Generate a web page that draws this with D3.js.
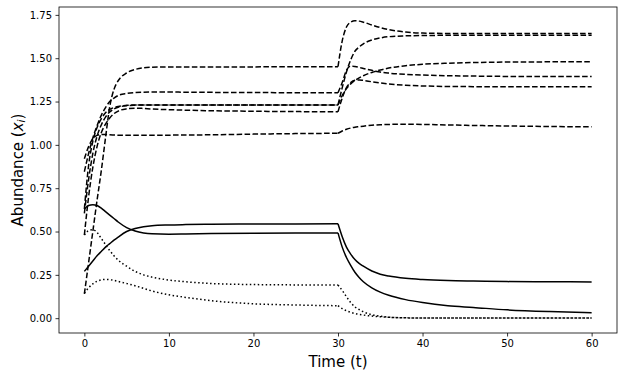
<!DOCTYPE html>
<html>
<head>
<meta charset="utf-8">
<script src="https://cdn.jsdelivr.net/npm/d3@7"></script>
<style>
  body { margin: 0; background: #fff; }
  svg { display: block; }
</style>
</head>
<body>
<div id="chart"></div>
<script>
// sample times (the switch happens at t = 30)
const times = [0, 0.5, 1, 1.5, 2, 2.5, 3, 3.5, 4, 5, 6, 7, 8, 10, 12, 15, 20, 25, 30,
  30.5, 31, 31.5, 32, 32.5, 33, 34, 35, 36, 38, 40, 43, 46, 50, 55, 60];

// dashed species
const dashed1 = [0.14, 0.32, 0.50, 0.68, 0.85, 1.04, 1.22, 1.32, 1.37, 1.415, 1.435, 1.445, 1.448, 1.45, 1.45, 1.45, 1.45, 1.451, 1.451,
  1.60, 1.68, 1.708, 1.716, 1.714, 1.708, 1.692, 1.677, 1.665, 1.651, 1.645, 1.643, 1.643, 1.643, 1.643, 1.643];
const dashed2 = [0.845, 0.95, 1.04, 1.11, 1.17, 1.215, 1.25, 1.27, 1.285, 1.297, 1.302, 1.304, 1.305, 1.305, 1.304, 1.303, 1.302, 1.301, 1.301,
  1.36, 1.43, 1.455, 1.452, 1.447, 1.441, 1.43, 1.42, 1.414, 1.407, 1.403, 1.399, 1.397, 1.395, 1.394, 1.394];
const dashed3 = [0.63, 0.88, 1.02, 1.10, 1.15, 1.185, 1.205, 1.215, 1.222, 1.228, 1.23, 1.23, 1.23, 1.23, 1.23, 1.23, 1.23, 1.23, 1.23,
  1.33, 1.42, 1.49, 1.54, 1.565, 1.583, 1.605, 1.617, 1.624, 1.629, 1.631, 1.632, 1.632, 1.632, 1.632, 1.632];
const dashed4 = [0.605, 0.80, 0.95, 1.05, 1.115, 1.16, 1.19, 1.207, 1.217, 1.226, 1.229, 1.23, 1.23, 1.23, 1.23, 1.23, 1.23, 1.23, 1.23,
  1.285, 1.325, 1.352, 1.372, 1.387, 1.399, 1.418, 1.432, 1.443, 1.457, 1.465, 1.471, 1.475, 1.478, 1.479, 1.48];
const dashed5 = [0.48, 0.70, 0.87, 0.99, 1.07, 1.12, 1.155, 1.18, 1.195, 1.208, 1.212, 1.21, 1.207, 1.203, 1.2, 1.197, 1.194, 1.192, 1.191,
  1.27, 1.33, 1.36, 1.373, 1.375, 1.372, 1.364, 1.357, 1.351, 1.344, 1.34, 1.337, 1.336, 1.335, 1.335, 1.335];
const dashed6 = [0.92, 0.99, 1.035, 1.055, 1.06, 1.06, 1.058, 1.057, 1.056, 1.055, 1.055, 1.055, 1.055, 1.056, 1.057, 1.058, 1.062, 1.065, 1.067,
  1.08, 1.09, 1.097, 1.102, 1.105, 1.108, 1.113, 1.116, 1.118, 1.119, 1.118, 1.115, 1.112, 1.109, 1.106, 1.104];

// solid species
const solid1 = [0.63, 0.65, 0.655, 0.65, 0.635, 0.615, 0.595, 0.575, 0.555, 0.523, 0.503, 0.492, 0.487, 0.485, 0.486, 0.488, 0.49, 0.491, 0.492,
  0.41, 0.35, 0.305, 0.265, 0.235, 0.21, 0.175, 0.15, 0.132, 0.107, 0.09, 0.072, 0.062, 0.048, 0.038, 0.032];
const solid2 = [0.27, 0.30, 0.33, 0.36, 0.385, 0.41, 0.43, 0.45, 0.468, 0.50, 0.518, 0.528, 0.534, 0.538, 0.54, 0.542, 0.543, 0.544, 0.545,
  0.47, 0.41, 0.37, 0.338, 0.316, 0.30, 0.272, 0.254, 0.243, 0.23, 0.223, 0.217, 0.214, 0.211, 0.21, 0.209];

// dotted species
const dotted1 = [0.48, 0.505, 0.51, 0.495, 0.46, 0.425, 0.39, 0.36, 0.335, 0.30, 0.27, 0.25, 0.237, 0.22, 0.21, 0.2, 0.194, 0.192, 0.191,
  0.16, 0.124, 0.09, 0.065, 0.05, 0.037, 0.02, 0.011, 0.006, 0.002, 0.001, 0.001, 0.001, 0.001, 0.001, 0.001];
const dotted2 = [0.144, 0.175, 0.198, 0.213, 0.221, 0.224, 0.222, 0.218, 0.212, 0.2, 0.187, 0.172, 0.157, 0.135, 0.12, 0.101, 0.083, 0.076, 0.072,
  0.055, 0.043, 0.034, 0.027, 0.022, 0.018, 0.012, 0.008, 0.005, 0.002, 0.001, 0.001, 0.001, 0.001, 0.001, 0.001];

const xTicks = [0, 10, 20, 30, 40, 50, 60];
const yTicks = [0, 0.25, 0.5, 0.75, 1.0, 1.25, 1.5, 1.75];

const width = 624, height = 376;
const margin = {top: 7, right: 7, bottom: 43, left: 59};
const visWidth = width - margin.left - margin.right;
const visHeight = height - margin.top - margin.bottom;
const font = "DejaVu Sans";

const svg = d3.select("#chart").append("svg")
  .attr("width", width)
  .attr("height", height);

const g = svg.append("g")
  .attr("transform", `translate(${margin.left}, ${margin.top})`);

const x = d3.scaleLinear().domain([-3, 63]).range([0, visWidth]);
const y = d3.scaleLinear().domain([-0.0855, 1.7955]).range([visHeight, 0]);

// axes
const xAxisGroup = g.append("g")
  .attr("transform", `translate(0, ${visHeight})`)
  .call(d3.axisBottom(x).tickValues(xTicks).tickSize(3.5).tickPadding(3.5).tickFormat(d3.format("d")));

const yAxisGroup = g.append("g")
  .call(d3.axisLeft(y).tickValues(yTicks).tickSize(3.5).tickPadding(3.5).tickFormat(d3.format(".2f")));

[xAxisGroup, yAxisGroup].forEach(a => {
  a.select(".domain").remove();
  a.attr("font-family", font).attr("font-size", 10);
  a.selectAll("line").attr("stroke", "#000").attr("stroke-width", 0.8);
  a.selectAll("text").attr("fill", "#000");
});

// lines
const line = d3.line()
  .x(d => x(d[0]))
  .y(d => y(d[1]))
  .curve(d3.curveMonotoneX);

const cut = times.indexOf(30);

function drawSeries(vals, dash) {
  const pts = times.map((t, i) => [t, vals[i]]);
  [pts.slice(0, cut + 1), pts.slice(cut)].forEach(seg => {
    g.append("path")
      .attr("d", line(seg))
      .attr("fill", "none")
      .attr("stroke", "#000")
      .attr("stroke-width", 1.5)
      .attr("stroke-dasharray", dash);
  });
}

[dashed1, dashed2, dashed3, dashed4, dashed5, dashed6].forEach(s => drawSeries(s, "5.55,2.4"));
[solid1, solid2].forEach(s => drawSeries(s, null));
[dotted1, dotted2].forEach(s => drawSeries(s, "1.5,2.475"));

// frame
g.append("rect")
  .attr("x", 0).attr("y", 0)
  .attr("width", visWidth).attr("height", visHeight)
  .attr("fill", "none")
  .attr("stroke", "#000")
  .attr("stroke-width", 0.8);

// labels
svg.append("text")
  .attr("x", margin.left + visWidth / 2)
  .attr("y", 367)
  .attr("text-anchor", "middle")
  .attr("font-family", font)
  .attr("font-size", 15)
  .text("Time (t)");

const yl = svg.append("text")
  .attr("transform", `translate(22.5, ${margin.top + visHeight / 2}) rotate(-90)`)
  .attr("text-anchor", "middle")
  .attr("font-family", font)
  .attr("font-size", 15);
yl.append("tspan").text("Abundance (");
yl.append("tspan").attr("font-style", "italic").text("x");
yl.append("tspan").attr("font-style", "italic").attr("font-size", 10.5).attr("dy", 2.5).text("i");
yl.append("tspan").attr("dy", -2.5).text(")");
</script>
</body>
</html>
